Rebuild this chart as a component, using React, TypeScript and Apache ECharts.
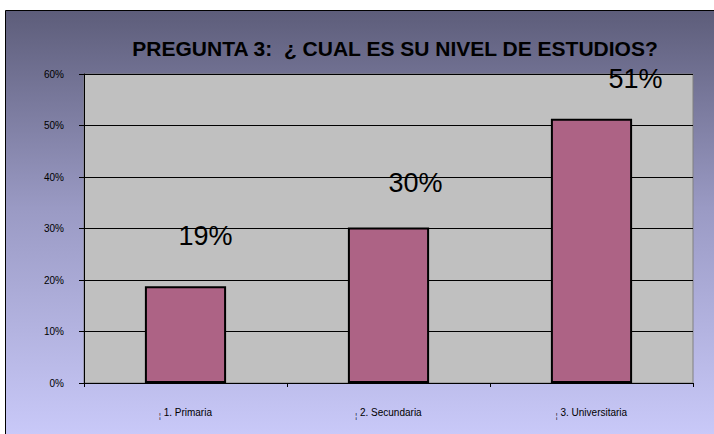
import React, { useEffect, useRef } from "react";
import * as echarts from "echarts";

const title = "PREGUNTA 3:  ¿ CUAL ES SU NIVEL DE ESTUDIOS?";
const categories = ["1. Primaria", "2. Secundaria", "3. Universitaria"];
const values = [0.188, 0.302, 0.513];
const valueLabels = ["19%", "30%", "51%"];
const yTicks = [0, 0.1, 0.2, 0.3, 0.4, 0.5, 0.6];

export default function App() {
  const ref = useRef<HTMLDivElement>(null);
  useEffect(() => {
    const chart = echarts.init(ref.current!, null, { renderer: "svg" });
    const offsets = [[20, -32], [27, -26], [44, -21]];
    chart.setOption({
      animation: false,
      backgroundColor: "#ffffff",
      graphic: [
        {
          type: "rect",
          z: -10,
          silent: true,
          shape: { x: 5.5, y: 10.5, width: 720, height: 440 },
          style: {
            fill: new echarts.graphic.LinearGradient(0, 0, 0, 1, [
              { offset: 0, color: "#5d5d7a" },
              { offset: 0.45, color: "#9a9ac4" },
              { offset: 1, color: "#ccccfc" },
            ]),
            stroke: "#000000",
            lineWidth: 1,
          },
        },
      ],
      title: {
        text: title,
        left: 390,
        textAlign: "center",
        top: 33,
        textStyle: {
          fontFamily: "Liberation Sans, Arial, sans-serif",
          fontSize: 21,
          fontWeight: "bold",
          color: "#000000",
        },
      },
      grid: {
        left: 84,
        top: 74,
        right: 21,
        bottom: 51,
        show: true,
        backgroundColor: "#c0c0c0",
        borderColor: "#808080",
        borderWidth: 1,
      },
      xAxis: {
        type: "category",
        data: categories,
        axisLine: { show: true, lineStyle: { color: "#000000", width: 1 } },
        axisTick: { show: true, length: 4, lineStyle: { color: "#000000" } },
        axisLabel: {
          margin: 23,
          fontFamily: "Liberation Sans, Arial, sans-serif",
          fontSize: 10,
          color: "#000000",
          formatter: (v: string) => "{g|¦} " + v,
          rich: { g: { fontSize: 7, color: "#000000", padding: [6, 0, 0, 0] } },
        },
      },
      yAxis: {
        type: "value",
        min: yTicks[0],
        max: yTicks[yTicks.length - 1],
        interval: 0.1,
        axisLine: { show: true, lineStyle: { color: "#000000", width: 1 } },
        axisTick: { show: true, length: 5, lineStyle: { color: "#000000" } },
        axisLabel: {
          margin: 20,
          fontFamily: "Liberation Sans, Arial, sans-serif",
          fontSize: 10,
          color: "#000000",
          formatter: (v: number) => Math.round(v * 100) + "%",
        },
        splitLine: { show: true, lineStyle: { color: "#000000", width: 1 } },
      },
      series: [
        {
          type: "bar",
          barWidth: "40%",
          data: values.map((v, i) => ({
            value: v,
            label: {
              show: true,
              position: "top",
              offset: offsets[i],
              formatter: valueLabels[i],
            },
          })),
          itemStyle: { color: "#ad6385", borderColor: "#000000", borderWidth: 2 },
          label: {
            fontFamily: "Liberation Sans, Arial, sans-serif",
            fontSize: 27,
            color: "#000000",
          },
        },
      ],
    });
    return () => chart.dispose();
  }, []);
  return (
    <div
      ref={ref}
      style={{ position: "fixed", left: 0, top: 0, width: 714, height: 434 }}
    />
  );
}
